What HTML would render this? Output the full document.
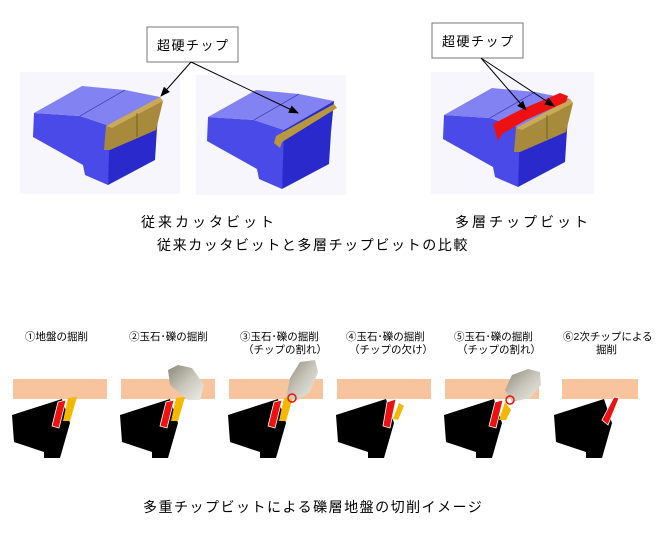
<!DOCTYPE html>
<html><head><meta charset="utf-8"><style>
html,body{margin:0;padding:0;background:#fff;}
svg{display:block;}
text{font-family:"Liberation Sans","Noto Sans CJK JP",sans-serif;fill:#000;}
</style></head><body>
<svg width="660" height="534" viewBox="0 0 660 534" xmlns="http://www.w3.org/2000/svg">
<defs>
<marker id="ah" markerWidth="10" markerHeight="8" refX="9" refY="4" orient="auto" markerUnits="userSpaceOnUse"><path d="M0,0 L10,4 L0,8 z" fill="#000"/></marker>
<linearGradient id="rock" x1="0" y1="0" x2="1" y2="1"><stop offset="0" stop-color="#8a8878"/><stop offset="0.5" stop-color="#c8c6ba"/><stop offset="1" stop-color="#eeeeea"/></linearGradient>
<g id="bit">
<polygon points="34,113 80,116 110,126 110,152 108,185 85,175 83,165 33,137" fill="#4a4ae8"/>
<polygon points="34,113 82,86 125,90 160,97 110,126 80,116" fill="#8282f2"/>
<line x1="80" y1="116" x2="125" y2="90" stroke="#3030a0" stroke-width="0.6"/>
<polygon points="110,126 160,97 157,128 155,160 108,185" fill="#2a2acc"/>
</g>
</defs>
<rect x="20" y="72" width="160" height="122" fill="#f6f6fc"/>
<rect x="196" y="75" width="150" height="120" fill="#f6f6fc"/>
<rect x="431" y="72" width="163" height="122" fill="#f6f6fc"/>
<use href="#bit"/>
<polygon points="106,126 160,97 163,101 156,130 110,150 104,150" fill="#a88a3c"/>
<polygon points="106,126 160,97 163,101 112,128" fill="#c8aa5a"/>
<line x1="137" y1="113" x2="137" y2="137" stroke="#5a4a20" stroke-width="0.7"/>
<use href="#bit" transform="translate(174,4)"/>
<polygon points="276,136 334,104 337,108 282,142 280,148 274,143" fill="#b8983c"/>
<use href="#bit" transform="translate(410,2)"/>
<polygon points="516,128 570,99 573,103 566,132 520,152 514,152" fill="#a88a3c"/>
<polygon points="516,128 570,99 573,103 522,130" fill="#c8aa5a"/>
<line x1="547" y1="115" x2="547" y2="139" stroke="#5a4a20" stroke-width="0.7"/>
<polygon points="493,124 520,110 560,93 568,96 566,102 526,120 502,134 498,141" fill="#ee1111"/>
<rect x="147" y="27" width="91" height="35" fill="#fff" stroke="#777" stroke-width="1"/>
<text x="157" y="50" font-size="13" letter-spacing="1.5">超硬チップ</text>
<line x1="191" y1="62" x2="161" y2="96" stroke="#000" stroke-width="1" marker-end="url(#ah)"/>
<line x1="191" y1="62" x2="298" y2="113" stroke="#000" stroke-width="1" marker-end="url(#ah)"/>
<rect x="432" y="23" width="91" height="35" fill="#fff" stroke="#777" stroke-width="1"/>
<text x="442" y="46" font-size="13" letter-spacing="1.5">超硬チップ</text>
<line x1="481" y1="58" x2="526" y2="110" stroke="#000" stroke-width="1" marker-end="url(#ah)"/>
<line x1="481" y1="58" x2="554" y2="106" stroke="#000" stroke-width="1" marker-end="url(#ah)"/>
<text x="141" y="227" font-size="14" letter-spacing="3">従来カッタビット</text>
<text x="455" y="227" font-size="14" letter-spacing="3">多層チップビット</text>
<text x="157" y="250" font-size="14" letter-spacing="1.6">従来カッタビットと多層チップビットの比較</text>
<g font-size="10.5">
<text x="25" y="340">①地盤の掘削</text>
<text x="129" y="340">②玉石･礫の掘削</text>
<text x="240" y="340">③玉石･礫の掘削</text>
<text x="243" y="353">（チップの割れ）</text>
<text x="346" y="340">④玉石･礫の掘削</text>
<text x="349" y="353">（チップの欠け）</text>
<text x="454" y="340">⑤玉石･礫の掘削</text>
<text x="457" y="353">（チップの割れ）</text>
<text x="563" y="340">⑥2次チップによる</text>
<text x="596" y="353">掘削</text>
</g>
<g id="p1">
<rect x="13" y="379" width="94" height="20" fill="#f8c49e"/>
<polygon points="12,415 62,399 70,423 60,458 44,458 44,452 14,442" fill="#000"/>
</g>
<polygon points="58,402 66,400 59,428 52,426" fill="#ee1111" stroke="#fff" stroke-width="0.8"/>
<polygon points="68,398 77,397 70,421 63,421" fill="#f4b800"/>
<use href="#p1" transform="translate(108,0)"/>
<polygon points="166,402 174,400 167,428 160,426" fill="#ee1111" stroke="#fff" stroke-width="0.8"/>
<polygon points="176,398 185,397 178,421 171,421" fill="#f4b800"/>
<polygon points="168,370 178,365 192,368 204,385 200,400 188,400 170,385" fill="url(#rock)"/>
<use href="#p1" transform="translate(216,0)"/>
<polygon points="274,402 282,400 275,428 268,426" fill="#ee1111" stroke="#fff" stroke-width="0.8"/>
<polygon points="284,398 293,397 286,421 279,421" fill="#f4b800"/>
<polygon points="300,362 315,360 318,372 310,392 298,400 286,398 290,378" fill="url(#rock)"/>
<circle cx="292" cy="398" r="4" fill="none" stroke="#ee1111" stroke-width="1.5"/>
<use href="#p1" transform="translate(324,0)"/>
<polygon points="387,402 396,399 390,428 383,426" fill="#ee1111" stroke="#fff" stroke-width="0.8"/>
<polygon points="399,403 404,406 398,420 393,419" fill="#f4b800"/>
<use href="#p1" transform="translate(432,0)"/>
<polygon points="495,402 503,400 496,428 489,426" fill="#ee1111" stroke="#fff" stroke-width="0.8"/>
<polygon points="505,402 511,410 506,420 499,420" fill="#f4b800"/>
<polygon points="512,375 528,369 540,372 541,385 530,398 512,402 505,390" fill="url(#rock)"/>
<circle cx="510" cy="400" r="4" fill="none" stroke="#ee1111" stroke-width="1.5"/>
<g transform="translate(552,0)">
<rect x="10" y="379" width="76" height="20" fill="#f8c49e"/>
<polygon points="2,415 52,399 60,423 50,458 34,458 34,452 4,442" fill="#000"/>
<polygon points="50,420 62,397 67,398 56,425" fill="#ee1111" stroke="#fff" stroke-width="0.8"/>
</g>
<text x="143" y="512" font-size="14" letter-spacing="1.5">多重チップビットによる礫層地盤の切削イメージ</text>
</svg>
</body></html>
